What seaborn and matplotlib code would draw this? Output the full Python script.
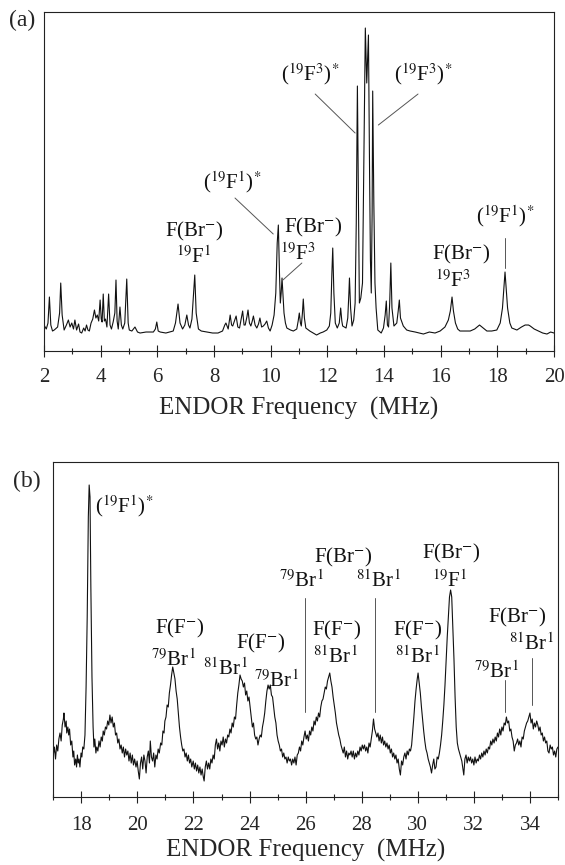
import matplotlib
matplotlib.use("Agg")
import matplotlib.pyplot as plt
import seaborn as sns
import pandas as pd

# ---------------- data: panel (a), 2-20 MHz ----------------
freq_a = [
    2.00, 2.08, 2.14, 2.19, 2.24, 2.30, 2.36, 2.48, 2.55, 2.59, 2.64, 2.71, 2.79, 2.86, 2.92, 2.98,
    3.04, 3.09, 3.15, 3.22, 3.27, 3.33, 3.40, 3.45, 3.50, 3.55, 3.60, 3.66, 3.72, 3.78, 3.83, 3.88,
    3.93, 3.98, 4.02, 4.05, 4.09, 4.13, 4.17, 4.22, 4.28, 4.33, 4.38, 4.44, 4.50, 4.54, 4.58, 4.62,
    4.68, 4.73, 4.78, 4.85, 4.92, 4.97, 5.01, 5.10, 5.21, 5.30, 5.39, 5.60, 5.86, 5.93, 5.98, 6.03,
    6.10, 6.30, 6.56, 6.64, 6.73, 6.80, 6.89, 6.97, 7.04, 7.10, 7.15, 7.22, 7.28, 7.32, 7.37, 7.45,
    7.55, 7.74, 7.95, 8.14, 8.30, 8.38, 8.42, 8.50, 8.57, 8.62, 8.66, 8.72, 8.78, 8.84, 8.90, 8.96,
    9.01, 9.06, 9.10, 9.16, 9.20, 9.25, 9.30, 9.35, 9.39, 9.45, 9.51, 9.57, 9.62, 9.68, 9.74, 9.80,
    9.86, 9.92, 9.98, 10.05, 10.12, 10.18, 10.23, 10.27, 10.31, 10.34, 10.37, 10.40, 10.44, 10.47,
    10.52, 10.57, 10.70, 10.80, 10.92, 10.97, 11.01, 11.05, 11.08, 11.12, 11.15, 11.19, 11.24, 11.38,
    11.50, 11.62, 11.75, 11.85, 11.98, 12.07, 12.12, 12.16, 12.19, 12.23, 12.28, 12.35, 12.42, 12.47,
    12.51, 12.54, 12.66, 12.72, 12.76, 12.78, 12.82, 12.87, 12.93, 12.98, 13.02, 13.06, 13.10, 13.13,
    13.18, 13.24, 13.28, 13.34, 13.39, 13.45, 13.49, 13.52, 13.55, 13.58, 13.60, 13.64, 13.68, 13.72,
    13.78, 13.90, 13.98, 14.04, 14.08, 14.12, 14.16, 14.20, 14.24, 14.28, 14.35, 14.45, 14.50, 14.54,
    14.58, 14.68, 14.80, 14.92, 15.10, 15.39, 15.60, 15.80, 15.98, 16.15, 16.27, 16.34, 16.40, 16.45,
    16.52, 16.60, 16.68, 16.85, 17.04, 17.20, 17.37, 17.50, 17.63, 17.80, 17.98, 18.10, 18.18, 18.23,
    18.27, 18.31, 18.36, 18.44, 18.51, 18.69, 18.85, 18.98, 19.10, 19.16, 19.30, 19.45, 19.60, 19.75,
    19.88, 20.00,
]
signal_a = [
    8, 4, 10, 36, 8, 2, 3, 6, 20, 50, 18, 3, 8, 13, 6, 10,
    4, 13, 3, 9, 1, 0, 5, 2, 8, 3, 2, 10, 14, 23, 15, 18,
    12, 33, 14, 11, 39, 12, 14, 6, 39, 8, 4, 11, 20, 53, 12, 4,
    26, 8, 4, 10, 54, 10, 3, 2, 6, 1, 0, 1, 1, 4, 11, 2,
    1, 0, 2, 10, 29, 10, 4, 8, 18, 8, 5, 14, 40, 58, 20, 4,
    2, 1, 0, 0, 2, 8, 10, 4, 18, 8, 7, 12, 17, 6, 5, 14,
    22, 8, 8, 16, 23, 10, 7, 12, 17, 8, 5, 9, 15, 6, 7, 9,
    12, 5, 2, 8, 18, 40, 90, 108, 60, 30, 40, 55, 35, 20,
    10, 5, 3, 2, 4, 12, 20, 10, 7, 20, 34, 15, 5, 2,
    0, -2, 0, 1, 3, 7, 20, 60, 85, 40, 10, 5, 10, 25,
    12, 7, 5, 15, 40, 55, 25, 7, 13, 30, 110, 247, 120, 30,
    35, 50, 150, 305, 250, 298, 160, 73, 40, 120, 242, 130, 50, 25,
    3, 0, 5, 18, 32, 8, 6, 30, 70, 25, 7, 10, 22, 33,
    15, 7, 3, 2, 1, -1, 1, 0, 2, 6, 13, 22, 36, 22,
    10, 4, 2, 2, 2, 4, 8, 5, 2, 2, 3, 10, 25, 45,
    61, 45, 25, 10, 5, 3, 6, 8, 8, 7, 4, 2, 0, -1,
    1, 0,
]

# ---------------- data: panel (b), 17-35 MHz ----------------
freq_b = [
    17.00, 17.04, 17.08, 17.12, 17.16, 17.20, 17.24, 17.28, 17.32, 17.36, 17.38, 17.42, 17.46, 17.48,
    17.52, 17.55, 17.58, 17.62, 17.66, 17.70, 17.73, 17.76, 17.80, 17.83, 17.86, 17.89, 17.92, 17.95,
    17.99, 18.02, 18.05, 18.09, 18.13, 18.17, 18.21, 18.25, 18.28, 18.31, 18.34, 18.38, 18.42, 18.45,
    18.48, 18.52, 18.55, 18.59, 18.63, 18.67, 18.71, 18.75, 18.78, 18.82, 18.86, 18.90, 18.94, 18.98,
    19.02, 19.06, 19.10, 19.14, 19.18, 19.22, 19.26, 19.30, 19.34, 19.38, 19.42, 19.46, 19.50, 19.54,
    19.58, 19.62, 19.66, 19.70, 19.74, 19.78, 19.82, 19.86, 19.90, 19.95, 19.99, 20.03, 20.07, 20.11,
    20.15, 20.19, 20.23, 20.27, 20.31, 20.35, 20.39, 20.43, 20.46, 20.50, 20.54, 20.58, 20.62, 20.66,
    20.70, 20.74, 20.78, 20.83, 20.87, 20.91, 20.95, 20.98, 21.02, 21.06, 21.10, 21.14, 21.18, 21.22,
    21.26, 21.30, 21.34, 21.38, 21.42, 21.46, 21.50, 21.54, 21.58, 21.62, 21.66, 21.70, 21.74, 21.78,
    21.82, 21.86, 21.90, 21.94, 21.99, 22.03, 22.07, 22.11, 22.15, 22.19, 22.23, 22.27, 22.31, 22.35,
    22.38, 22.42, 22.46, 22.50, 22.54, 22.58, 22.62, 22.66, 22.70, 22.74, 22.78, 22.82, 22.86, 22.90,
    22.94, 22.98, 23.02, 23.06, 23.10, 23.14, 23.18, 23.22, 23.26, 23.30, 23.34, 23.38, 23.42, 23.46,
    23.50, 23.54, 23.58, 23.62, 23.66, 23.70, 23.74, 23.78, 23.82, 23.86, 23.90, 23.94, 23.98, 24.02,
    24.06, 24.10, 24.14, 24.18, 24.22, 24.26, 24.30, 24.34, 24.38, 24.42, 24.46, 24.50, 24.54, 24.58,
    24.62, 24.66, 24.70, 24.74, 24.78, 24.82, 24.86, 24.90, 24.94, 24.98, 25.02, 25.06, 25.10, 25.14,
    25.18, 25.22, 25.26, 25.30, 25.34, 25.38, 25.42, 25.46, 25.50, 25.54, 25.58, 25.62, 25.66, 25.70,
    25.74, 25.78, 25.82, 25.86, 25.90, 25.94, 25.98, 26.02, 26.06, 26.10, 26.14, 26.18, 26.22, 26.26,
    26.30, 26.34, 26.38, 26.42, 26.46, 26.50, 26.54, 26.58, 26.62, 26.66, 26.70, 26.74, 26.78, 26.82,
    26.86, 26.90, 26.94, 26.98, 27.02, 27.06, 27.10, 27.14, 27.18, 27.22, 27.26, 27.30, 27.34, 27.38,
    27.42, 27.46, 27.50, 27.54, 27.58, 27.62, 27.66, 27.70, 27.74, 27.78, 27.82, 27.86, 27.90, 27.94,
    27.98, 28.02, 28.06, 28.10, 28.14, 28.18, 28.22, 28.26, 28.30, 28.34, 28.38, 28.42, 28.46, 28.50,
    28.54, 28.58, 28.62, 28.66, 28.70, 28.74, 28.78, 28.82, 28.86, 28.90, 28.94, 28.98, 29.02, 29.06,
    29.10, 29.14, 29.18, 29.22, 29.26, 29.30, 29.34, 29.38, 29.42, 29.46, 29.50, 29.54, 29.58, 29.62,
    29.66, 29.70, 29.74, 29.78, 29.82, 29.86, 29.90, 29.94, 29.98, 30.01, 30.05, 30.09, 30.13, 30.17,
    30.21, 30.25, 30.29, 30.33, 30.37, 30.41, 30.45, 30.49, 30.53, 30.57, 30.61, 30.65, 30.69, 30.73,
    30.77, 30.81, 30.85, 30.89, 30.93, 30.97, 31.01, 31.05, 31.09, 31.13, 31.17, 31.21, 31.25, 31.29,
    31.33, 31.37, 31.41, 31.45, 31.49, 31.53, 31.57, 31.61, 31.64, 31.68, 31.72, 31.76, 31.80, 31.84,
    31.88, 31.92, 31.96, 32.00, 32.04, 32.08, 32.12, 32.16, 32.20, 32.24, 32.28, 32.32, 32.36, 32.40,
    32.44, 32.48, 32.52, 32.56, 32.60, 32.64, 32.68, 32.72, 32.76, 32.80, 32.84, 32.88, 32.92, 32.96,
    33.00, 33.04, 33.08, 33.12, 33.16, 33.20, 33.24, 33.28, 33.32, 33.36, 33.40, 33.44, 33.48, 33.52,
    33.56, 33.60, 33.64, 33.68, 33.72, 33.76, 33.80, 33.84, 33.88, 33.92, 33.96, 34.00, 34.04, 34.08,
    34.12, 34.16, 34.20, 34.24, 34.28, 34.32, 34.36, 34.40, 34.44, 34.48, 34.52, 34.56, 34.60, 34.64,
    34.68, 34.72, 34.76, 34.80, 34.84, 34.88, 34.92, 34.96, 35.00,
]
signal_b = [
    42, 50, 38, 52, 46, 58, 64, 56, 72, 78, 84, 70, 76, 64,
    70, 62, 68, 52, 56, 40, 46, 32, 38, 30, 42, 34, 38, 30,
    44, 40, 50, 48, 62, 110, 180, 280, 312, 300, 210, 120, 70, 50,
    58, 44, 50, 46, 56, 50, 60, 56, 66, 62, 70, 68, 76, 72,
    82, 74, 80, 70, 74, 62, 64, 54, 58, 48, 52, 44, 50, 40,
    48, 42, 46, 36, 44, 34, 42, 32, 38, 30, 36, 26, 18, 34,
    40, 28, 42, 36, 24, 40, 46, 34, 56, 40, 36, 44, 30, 42,
    38, 48, 44, 54, 52, 66, 64, 76, 80, 92, 90, 104, 112, 122,
    130, 124, 118, 106, 98, 84, 70, 60, 52, 46, 48, 40, 44, 36,
    42, 34, 38, 30, 36, 28, 34, 26, 32, 24, 30, 22, 28, 20,
    16, 30, 36, 28, 34, 28, 38, 34, 42, 38, 52, 58, 48, 54,
    46, 56, 52, 60, 50, 58, 54, 62, 60, 68, 64, 74, 70, 80,
    78, 92, 104, 112, 122, 118, 116, 110, 114, 102, 106, 96, 100, 90,
    80, 70, 74, 62, 58, 60, 52, 58, 62, 60, 70, 76, 84, 96,
    106, 112, 108, 112, 102, 100, 90, 80, 74, 62, 56, 52, 46, 48,
    40, 44, 38, 40, 34, 40, 36, 38, 32, 38, 34, 40, 32, 42,
    44, 50, 46, 56, 52, 60, 66, 58, 62, 56, 66, 62, 70, 66,
    76, 72, 80, 76, 84, 80, 90, 96, 98, 104, 110, 108, 116, 120,
    124, 116, 110, 100, 92, 84, 74, 68, 62, 58, 52, 48, 44, 50,
    40, 46, 38, 44, 42, 46, 40, 46, 38, 44, 40, 46, 42, 50,
    46, 52, 48, 52, 46, 50, 44, 54, 50, 58, 66, 78, 68, 64,
    60, 64, 56, 62, 54, 60, 52, 56, 50, 54, 48, 52, 44, 48,
    40, 44, 38, 42, 34, 38, 28, 22, 36, 32, 40, 44, 38, 46,
    42, 48, 46, 52, 66, 80, 96, 108, 118, 124, 114, 104, 90, 78,
    66, 56, 48, 44, 38, 34, 30, 24, 32, 38, 28, 30, 40, 38,
    44, 52, 62, 76, 92, 112, 136, 160, 180, 200, 207, 200, 170, 138,
    100, 70, 54, 48, 44, 40, 36, 28, 22, 38, 42, 34, 40, 36,
    40, 34, 38, 32, 40, 34, 38, 36, 42, 38, 44, 40, 46, 42,
    48, 44, 50, 48, 56, 52, 58, 54, 60, 56, 64, 60, 68, 62,
    70, 66, 74, 72, 80, 74, 76, 66, 68, 60, 56, 46, 52, 54,
    58, 52, 56, 50, 60, 58, 66, 70, 74, 76, 80, 84, 74, 78,
    68, 74, 70, 76, 72, 66, 70, 62, 64, 56, 60, 54, 56, 46,
    44, 52, 48, 50, 42, 46, 40, 48, 50,
]

# peak assignments: (frequency, height, text, alignment)
notes_a = [
    (7.32, 97, r"F(Br$^{-}$)", "center"),
    (7.30, 70, r"$^{19}$F$^{1}$", "center"),
    (8.64, 145, r"($^{19}$F$^{1}$)$^{*}$", "center"),
    (11.51, 101, r"F(Br$^{-}$)", "center"),
    (10.97, 73, r"$^{19}$F$^{3}$", "center"),
    (11.39, 253, r"($^{19}$F$^{3}$)$^{*}$", "center"),
    (15.38, 253, r"($^{19}$F$^{3}$)$^{*}$", "center"),
    (16.72, 74, r"F(Br$^{-}$)", "center"),
    (16.42, 46, r"$^{19}$F$^{3}$", "center"),
    (18.27, 111, r"($^{19}$F$^{1}$)$^{*}$", "center"),
]
leaders_a = [
    ((8.74, 135), (10.09, 99)),
    ((11.10, 70), (10.43, 53)),
    ((11.57, 239), (12.98, 200)),
    ((15.20, 239), (13.80, 208)),
    ((18.27, 95), (18.27, 65)),
]

notes_b = [
    (18.49, 285, r"($^{19}$F$^{1}$)$^{*}$", "left"),
    (21.52, 164, r"F(F$^{-}$)", "center"),
    (21.27, 131, r"$^{79}$Br$^{1}$", "center"),
    (23.15, 122, r"$^{81}$Br$^{1}$", "center"),
    (24.40, 149, r"F(F$^{-}$)", "center"),
    (24.97, 110, r"$^{79}$Br$^{1}$", "center"),
    (27.34, 235, r"F(Br$^{-}$)", "center"),
    (25.85, 210, r"$^{79}$Br$^{1}$", "center"),
    (28.61, 210, r"$^{81}$Br$^{1}$", "center"),
    (27.10, 162, r"F(F$^{-}$)", "center"),
    (27.07, 134, r"$^{81}$Br$^{1}$", "center"),
    (30.00, 162, r"F(F$^{-}$)", "center"),
    (29.98, 134, r"$^{81}$Br$^{1}$", "center"),
    (31.20, 239, r"F(Br$^{-}$)", "center"),
    (31.14, 210, r"$^{19}$F$^{1}$", "center"),
    (33.56, 175, r"F(Br$^{-}$)", "center"),
    (34.05, 147, r"$^{81}$Br$^{1}$", "center"),
    (32.80, 119, r"$^{79}$Br$^{1}$", "center"),
]
leaders_b = [
    ((25.97, 199), (25.97, 85)),
    ((28.49, 199), (28.49, 85)),
    ((33.12, 117), (33.12, 85)),
    ((34.07, 139), (34.07, 92)),
]

sns.set_style("ticks")
plt.rcParams["font.family"] = ["Liberation Serif", "DejaVu Serif"]
plt.rcParams["mathtext.fontset"] = "stix"

fig = plt.figure(figsize=(5.65, 8.65), dpi=100)
ax_a = fig.add_axes([0.0779, 0.5942, 0.9027, 0.3919])
ax_b = fig.add_axes([0.0943, 0.0786, 0.8933, 0.3873])

df_a = pd.DataFrame({"freq": freq_a, "signal": signal_a})
df_b = pd.DataFrame({"freq": freq_b, "signal": signal_b})

sns.lineplot(data=df_a, x="freq", y="signal", ax=ax_a, color="#111111",
             linewidth=0.8, estimator=None, sort=False)
sns.lineplot(data=df_b, x="freq", y="signal", ax=ax_b, color="#111111",
             linewidth=0.8, estimator=None, sort=False)

TXT = 15


def style_panel(ax, xlim, ylim, ticks, notes, leaders, tag, tag_xy, tpad, lpad):
    ax.set_xlim(*xlim)
    ax.set_ylim(*ylim)
    ax.set_xticks(ticks)
    ax.set_xticks([t for t in range(int(xlim[0]), int(xlim[1]) + 1)], minor=True)
    ax.set_yticks([])
    ax.set_ylabel("")
    ax.set_xlabel("ENDOR Frequency  (MHz)", fontsize=18, labelpad=lpad)
    ax.tick_params(axis="x", which="major", direction="inout", length=9,
                   width=0.8, labelsize=15, pad=tpad, color="#222222")
    ax.tick_params(axis="x", which="minor", direction="inout", length=4.5,
                   width=0.8, color="#222222")
    for s in ax.spines.values():
        s.set_visible(True)
        s.set_linewidth(0.8)
        s.set_color("#222222")
    for x, y, t, ha in notes:
        ax.text(x, y, t, ha=ha, va="baseline", fontsize=TXT, color="#111111")
    for (x0, y0), (x1, y1) in leaders:
        ax.plot([x0, x1], [y0, y1], color="#555555", linewidth=0.7)
    fig.text(tag_xy[0], tag_xy[1], tag, ha="center", va="center", fontsize=17)


style_panel(ax_a, (2, 20), (-18, 321), [2, 4, 6, 8, 10, 12, 14, 16, 18, 20],
            notes_a, leaders_a, "(a)", (22 / 565, 1 - 20 / 865), 8, 7)
style_panel(ax_b, (17, 35), (0, 335), [18, 20, 22, 24, 26, 28, 30, 32, 34],
            notes_b, leaders_b, "(b)", (27 / 565, 1 - 481 / 865), 9, 3)

fig.savefig("out.png", dpi=100)
